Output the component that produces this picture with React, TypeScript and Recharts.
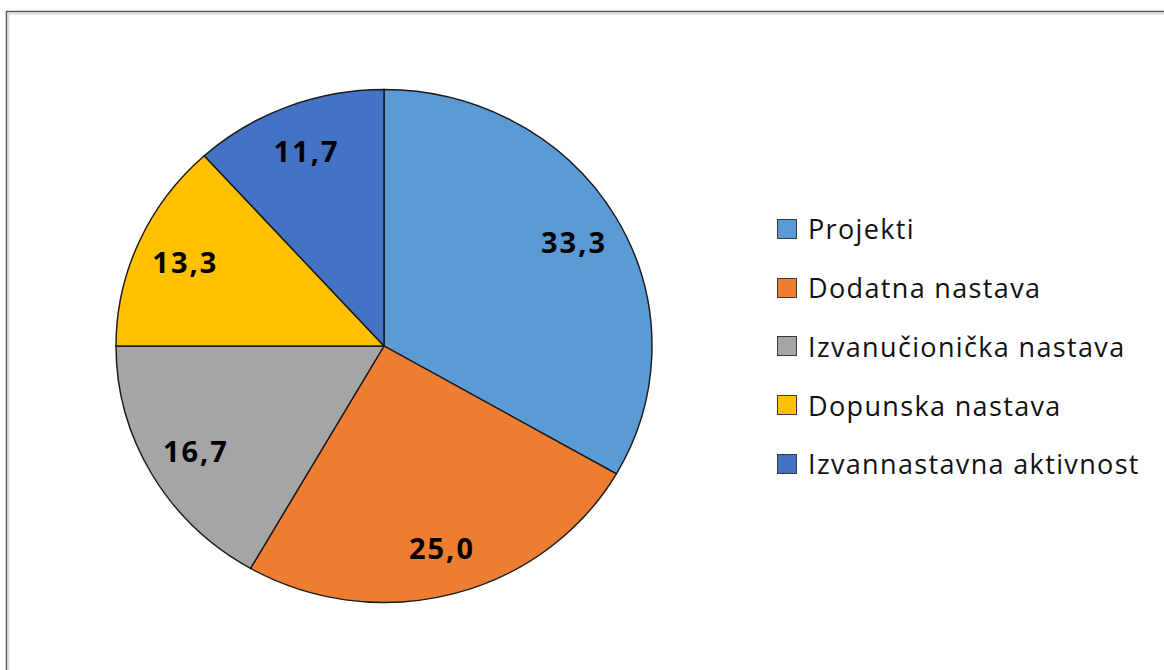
import React from 'react';
import { PieChart, Pie, Cell, Legend, Sector } from 'recharts';

const categories = ['Projekti', 'Dodatna nastava', 'Izvanučionička nastava', 'Dopunska nastava', 'Izvannastavna aktivnost'];
const values = [33.3, 25.0, 16.7, 13.3, 11.7];
const colors = ['#5B9BD5', '#ED7D31', '#A5A5A5', '#FFC000', '#4472C4'];

const data = categories.map((name, i) => ({ name, value: values[i] }));

const CX = 384;
const CY = 346;
const R = 256.5;
const SX = 268 / 256.5;
const SY = 1;
const RADIAN = Math.PI / 180;

const ShapeEllipse = (props: any) => {
  const { cx, cy } = props;
  return (
    <g transform={`translate(${cx} ${cy}) scale(${SX} ${SY}) translate(${-cx} ${-cy})`}>
      <Sector
        cx={props.cx}
        cy={props.cy}
        innerRadius={props.innerRadius}
        outerRadius={props.outerRadius}
        startAngle={props.startAngle}
        endAngle={props.endAngle}
        fill={props.fill}
        stroke="#1a1a1a"
        strokeWidth={1.4}
      />
    </g>
  );
};

const renderLabel = (props: any) => {
  const { cx, cy, midAngle, outerRadius, value } = props;
  const r = outerRadius * 0.815;
  const x = cx + r * Math.cos(-midAngle * RADIAN) * SX;
  const y = cy + r * Math.sin(-midAngle * RADIAN) * SY;
  return (
    <text
      x={x + 1}
      y={y}
      textAnchor="middle"
      dominantBaseline="central"
      fill="#000"
      fontFamily="'Open Sans', sans-serif"
      fontWeight={700}
      fontSize={29}
      letterSpacing={2}
    >
      {value.toFixed(1).replace('.', ',')}
    </text>
  );
};

const renderLegend = () => {
  return (
    <div style={{ fontFamily: "'Open Sans', sans-serif" }}>
      {categories.map((name, i) => (
        <div key={name} style={{ height: 58.75, display: 'flex', alignItems: 'center' }}>
          <div
            style={{
              width: 18,
              height: 18,
              background: colors[i],
              border: '1px solid #3a3a3a',
              marginRight: 11,
              flexShrink: 0,
            }}
          />
          <span style={{ fontSize: 27, color: '#111', whiteSpace: 'nowrap', lineHeight: 1, letterSpacing: 1.35 }}>{name}</span>
        </div>
      ))}
    </div>
  );
};

export default function App() {
  return (
    <div style={{ position: 'absolute', left: 0, top: 0, width: 1164, height: 670, background: '#fff' }}>
      <svg width={1164} height={670} style={{ position: 'absolute', left: 0, top: 0 }}>
        <line x1={6.5} y1={11.5} x2={1164} y2={11.5} stroke="#555" strokeWidth={1.5} />
        <line x1={8} y1={13.5} x2={1164} y2={13.5} stroke="#dcdcdc" strokeWidth={2} />
        <line x1={6.5} y1={11} x2={6.5} y2={670} stroke="#555" strokeWidth={1.5} />
        <line x1={8.5} y1={13} x2={8.5} y2={670} stroke="#dcdcdc" strokeWidth={2} />
      </svg>
      <div style={{ position: 'absolute', left: 0, top: 0 }}>
        <PieChart width={1164} height={670} margin={{ top: 0, right: 0, bottom: 0, left: 0 }}>
          <Pie
            data={data}
            dataKey="value"
            nameKey="name"
            cx={CX}
            cy={CY}
            outerRadius={R}
            startAngle={90}
            endAngle={-270}
            isAnimationActive={false}
            labelLine={false}
            label={renderLabel}
            shape={ShapeEllipse}
            stroke="#1a1a1a"
          >
            {data.map((d, i) => (
              <Cell key={d.name} fill={colors[i]} />
            ))}
          </Pie>
          <Legend
            layout="vertical"
            content={renderLegend}
            wrapperStyle={{ position: 'absolute', left: 777, top: 199.5, width: 385, height: 300 }}
          />
        </PieChart>
      </div>
    </div>
  );
}
